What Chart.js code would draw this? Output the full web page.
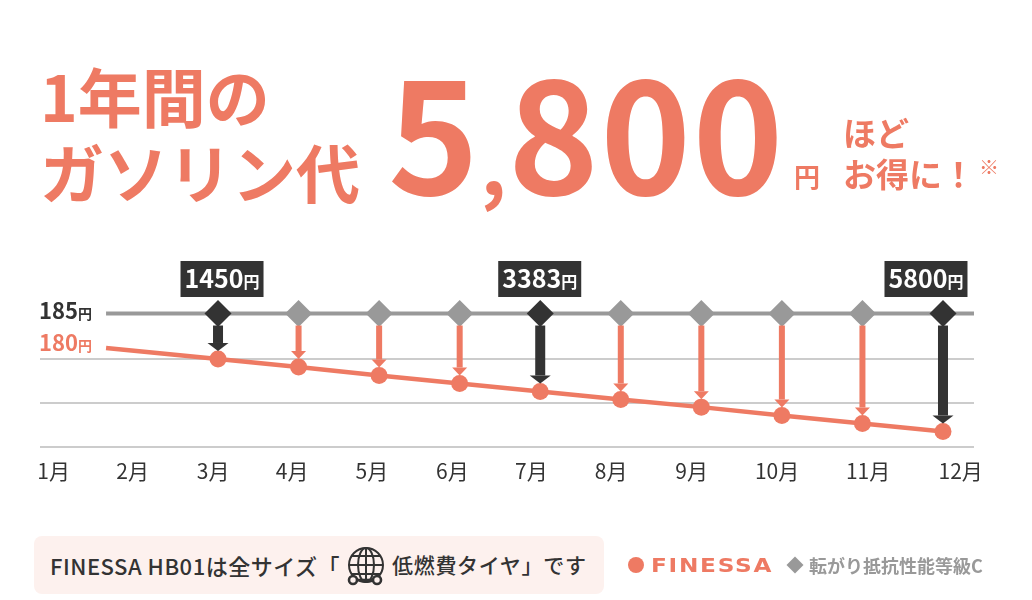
<!DOCTYPE html>
<html lang="ja">
<head>
<meta charset="utf-8">
<title>FINESSA HB01</title>
<script src="https://cdn.jsdelivr.net/npm/chart.js@4"></script>
<style>
  html, body { margin: 0; padding: 0; background: #fff; }
  body { width: 1032px; height: 600px; position: relative; overflow: hidden;
         font-family: "Noto Sans CJK JP", sans-serif; color: #333; }
  #chart { position: absolute; left: 0; top: 0; width: 1032px; height: 600px; }
  .t { position: absolute; white-space: nowrap; line-height: 1; }
  .red { color: #ee7a63; font-weight: 700; }
  #pill { position: absolute; left: 34px; top: 536px; width: 570px; height: 58px;
          background: #fdf1ee; border-radius: 8px; }
  #dot { position: absolute; left: 628px; top: 557px; width: 16px; height: 16px;
         border-radius: 50%; background: #ee7a63; }
  #dia { position: absolute; left: 789px; top: 559px; width: 12px; height: 12px;
         background: #999; transform: rotate(45deg); }
</style>
</head>
<body>
<canvas id="chart" width="1032" height="600"></canvas>

<div class="t red" style="left:40px;top:62px;font-size:64px">1年間の</div>
<div class="t red" style="left:40px;top:138px;font-size:64px">ガソリン代</div>
<div class="t red" style="left:388px;top:51px;font-size:154px;letter-spacing:1.5px">5<span style="font-size:80px">,</span>800</div>
<div class="t red" style="left:794px;top:163px;font-size:26px">円</div>
<div class="t red" style="left:843px;top:116px;font-size:33px">ほど</div>
<div class="t red" style="left:843px;top:157px;font-size:33px">お得に！</div>
<div class="t" style="left:979px;top:157px;font-size:20px;color:#ee7a63">※</div>

<div id="pill"></div>
<div class="t" style="left:50px;top:554px;font-size:22px;font-weight:500;letter-spacing:0.5px">FINESSA HB01は全サイズ「</div>
<svg style="position:absolute;left:346px;top:547px" width="42" height="40" viewBox="0 0 42 40" fill="none" stroke="#333" stroke-width="2">
  <circle cx="20" cy="18" r="17"/>
  <ellipse cx="20" cy="18" rx="8" ry="17"/>
  <path d="M20 1V35M3 18H37M6 9H34M6 27H34"/>
  <circle cx="7" cy="33" r="4" fill="#fdf1ee" stroke-width="2.6"/>
  <circle cx="31" cy="33" r="4" fill="#fdf1ee" stroke-width="2.6"/>
  <path d="M11 33H27" stroke-width="2.6"/>
</svg>
<div class="t" style="left:392px;top:554px;font-size:21px;font-weight:500;letter-spacing:0.7px">低燃費タイヤ」です</div>

<div id="dot"></div>
<div class="t" style="left:651px;top:555px;font-size:20px;font-weight:700;color:#ee7a63;font-family:'DejaVu Sans';letter-spacing:1.5px;transform:scaleX(1.16);transform-origin:left">FINESSA</div>
<div id="dia"></div>
<div class="t" style="left:809px;top:556px;font-size:18px;font-weight:700;color:#999">転がり抵抗性能等級C</div>

<script>
const monthLabels = ["1月", "2月", "3月", "4月", "5月", "6月", "7月", "8月", "9月", "10月", "11月", "12月"];
// where the month labels sit on the month scale, they do not line up exactly with the marks
const monthLabelPos = [0.96, 1.94, 2.94, 3.92, 4.91, 5.91, 6.89, 7.88, 8.88, 9.94, 11.07, 12.22];
const markMonths = [3, 4, 5, 6, 7, 8, 9, 10, 11, 12];

const basePrice = 185;
const lowPrice = 180;
const lineStartMonth = 1.61;
const lineEndMonth = 12.385;
const lowPrices = [178.41, 177.25, 176.0, 174.86, 173.7, 172.54, 171.43, 170.22, 169.06, 167.9];
const gridPrices = [178.41, 172.03, 165.65];

const tagMonths = [3, 7, 12];
const tagAmounts = ["1450", "3383", "5800"];

const RED = "#ee7a63";
const DARK = "#333333";
const GRAY = "#999999";

function isTagMonth(m) {
  return tagMonths.includes(m);
}

// number with a small 円 after it
function drawAmount(ctx, text, x, y, color, big, small) {
  ctx.fillStyle = color;
  ctx.textBaseline = "alphabetic";
  ctx.textAlign = "left";
  ctx.font = "700 " + big + 'px "Noto Sans CJK JP"';
  ctx.fillText(text, x, y);
  const w = ctx.measureText(text).width;
  ctx.font = "700 " + small + 'px "Noto Sans CJK JP"';
  ctx.fillText("円", x + w, y);
}

const annotations = {
  id: "annotations",
  afterDatasetsDraw(chart) {
    const ctx = chart.ctx;
    const xs = chart.scales.x;
    const ys = chart.scales.y;

    // arrows from the upper line down to each point
    const top = ys.getPixelForValue(basePrice) + 12;
    markMonths.forEach((m, i) => {
      const x = xs.getPixelForValue(m);
      const tip = ys.getPixelForValue(lowPrices[i]) - 8;
      const dark = isTagMonth(m);
      const shaft = dark ? 10 : 6;
      const head = dark ? 10.5 : 7.5;
      ctx.fillStyle = dark ? DARK : RED;
      ctx.fillRect(x - shaft / 2, top, shaft, tip - 8 - top);
      ctx.beginPath();
      ctx.moveTo(x - head, tip - 8);
      ctx.lineTo(x + head, tip - 8);
      ctx.lineTo(x, tip);
      ctx.closePath();
      ctx.fill();
    });

    // dark tags above the highlighted months
    const tagShift = [4, -0.5, -17];
    tagMonths.forEach((m, i) => {
      const cx = xs.getPixelForValue(m) + tagShift[i];
      const boxW = 83;
      ctx.fillStyle = DARK;
      ctx.fillRect(cx - boxW / 2, 261, boxW, 36);
      drawAmount(ctx, tagAmounts[i], cx - boxW / 2 + 4, 288, "#fff", 25, 16);
    });

    drawAmount(ctx, String(basePrice), 39, ys.getPixelForValue(basePrice) + 5, DARK, 22, 14);
    drawAmount(ctx, String(lowPrice), 39, ys.getPixelForValue(lowPrice) + 3, RED, 22, 14);
  },
};

new Chart(document.getElementById("chart").getContext("2d"), {
  type: "line",
  data: {
    // first dataset is painted last, so the diamonds come before the gray line
    datasets: [
      {
        label: "185円 marks",
        data: markMonths.map((m) => ({ x: m, y: basePrice })),
        showLine: false,
        pointStyle: "rectRot",
        pointRadius: 13.5,
        pointBackgroundColor: markMonths.map((m) => (isTagMonth(m) ? DARK : GRAY)),
        pointBorderWidth: 0,
      },
      {
        label: "185円",
        data: [{ x: lineStartMonth, y: basePrice }, { x: lineEndMonth, y: basePrice }],
        borderColor: GRAY,
        borderWidth: 4,
        pointRadius: 0,
      },
      {
        label: "180円",
        data: [{ x: lineStartMonth, y: lowPrice }].concat(
          markMonths.map((m, i) => ({ x: m, y: lowPrices[i] }))
        ),
        borderColor: RED,
        borderWidth: 4.5,
        tension: 0,
        pointRadius: [0].concat(markMonths.map(() => 8.5)),
        pointBackgroundColor: RED,
        pointBorderWidth: 0,
      },
    ],
  },
  options: {
    responsive: false,
    animation: false,
    devicePixelRatio: 1,
    layout: { padding: { top: 300, right: 58 } },
    plugins: { legend: { display: false }, tooltip: { enabled: false } },
    scales: {
      x: {
        type: "linear",
        min: 0.79,
        max: 12.385,
        grid: { display: false },
        border: { display: false },
        afterBuildTicks(scale) {
          scale.ticks = monthLabelPos.map((value) => ({ value }));
        },
        afterFit(scale) {
          scale.height = 153;
        },
        ticks: {
          autoSkip: false,
          maxRotation: 0,
          padding: 3,
          color: DARK,
          font: { family: '"Noto Sans CJK JP"', size: 21 },
          callback: (value, index) => monthLabels[index],
        },
      },
      y: {
        min: 165.65,
        max: 186.96,
        border: { display: false },
        grid: { color: "#cccccc", lineWidth: 2, drawTicks: false },
        afterBuildTicks(scale) {
          scale.ticks = gridPrices.map((value) => ({ value }));
        },
        afterFit(scale) {
          scale.width = 40;
        },
        ticks: { display: false },
      },
    },
  },
  plugins: [annotations],
});
</script>
</body>
</html>
